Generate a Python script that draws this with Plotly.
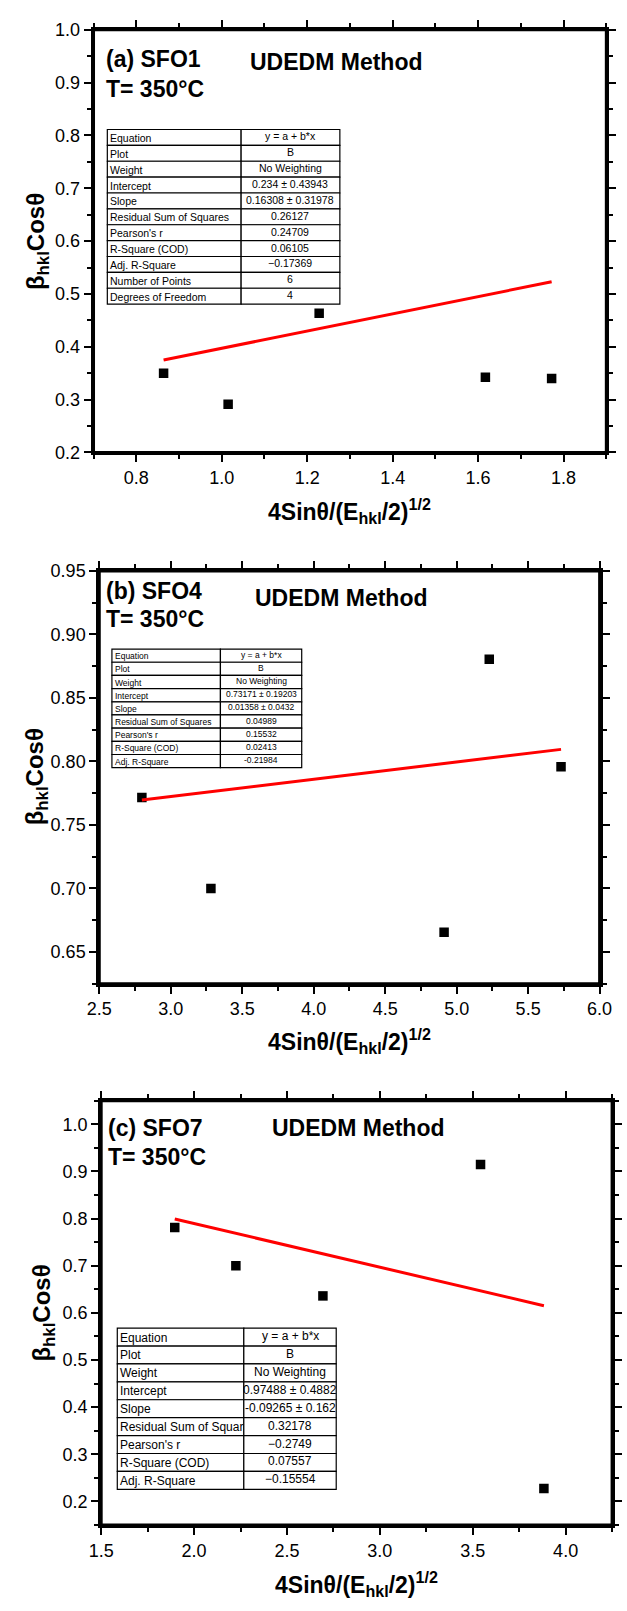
import plotly.graph_objects as go

# ---------------- data ----------------
sfo1_x = [0.864, 1.015, 1.228, 1.617, 1.772]
sfo1_y = [0.350, 0.291, 0.4635, 0.3425, 0.340]
sfo1_fit = (0.234, 0.16308)

sfo4_x = [2.798, 3.281, 4.912, 5.228, 5.730]
sfo4_y = [0.7716, 0.700, 0.6655, 0.8805, 0.7958]
sfo4_fit = (0.73171, 0.01358)

sfo7_x = [1.896, 2.225, 2.6935, 3.542, 3.883]
sfo7_y = [0.781, 0.700, 0.636, 0.915, 0.2274]
sfo7_fit = (0.97488, -0.09265)

panel_labels = ["(a) SFO1", "(b) SFO4", "(c) SFO7"]
temp_label = "T= 350°C"
method_label = "UDEDM Method"

tbl1_keys = ["Equation", "Plot", "Weight", "Intercept", "Slope", "Residual Sum of Squares",
             "Pearson's r", "R-Square (COD)", "Adj. R-Square", "Number of Points", "Degrees of Freedom"]
tbl1_vals = ["y = a + b*x", "B", "No Weighting", "0.234 ± 0.43943", "0.16308 ± 0.31978", "0.26127",
             "0.24709", "0.06105", "−0.17369", "6", "4"]
tbl2_keys = ["Equation", "Plot", "Weight", "Intercept", "Slope", "Residual Sum of Squares",
             "Pearson's r", "R-Square (COD)", "Adj. R-Square"]
tbl2_vals = ["y = a + b*x", "B", "No Weighting", "0.73171 ± 0.19203", "0.01358 ± 0.0432", "0.04989",
             "0.15532", "0.02413", "-0.21984"]
tbl3_keys = ["Equation", "Plot", "Weight", "Intercept", "Slope", "Residual Sum of Squar",
             "Pearson's r", "R-Square (COD)", "Adj. R-Square"]
tbl3_vals = ["y = a + b*x", "B", "No Weighting", "0.97488 ± 0.4882", "-0.09265 ± 0.162", "0.32178",
             "−0.2749", "0.07557", "−0.15554"]

x_title = "<b>4Sinθ/(E<sub>hkl</sub>/2)<sup>1/2</sup></b>"
y_title = "<b>β<sub>hkl</sub>Cosθ</b>"

# ---------------- layout helpers ----------------
W, H = 627, 1611
FONT = "Liberation Sans, Arial, sans-serif"


def px(x):
    return x / W


def py(y):
    return 1 - y / H


panels = [
    dict(rect=(84, 619, 20, 448), xr=[0.7, 1.9], yr=[0.2, 1.0], xdt=0.2, x0=0.8, xmin=0.1,
         ydt=0.1, y0=0.2, ymin=0.05, xfmt=".1f", yfmt=".1f",
         x=sfo1_x, y=sfo1_y, fit=sfo1_fit,
         tbl=(98.4, 238, 341, 121, 297.8, 10.5), keys=tbl1_keys, vals=tbl1_vals,
         lab=(95, 50), tlab=(95, 80), mlab=(245, 53), ytx=25, xty=507),
    dict(rect=(90, 612, 568, 986), xr=[2.5, 6.0], yr=[0.625, 0.95], xdt=0.5, x0=2.5, xmin=0.25,
         ydt=0.05, y0=0.65, ymin=0.025, xfmt=".1f", yfmt=".2f",
         x=sfo4_x, y=sfo4_y, fit=sfo4_fit,
         tbl=(103.2, 216.4, 301.2, 647.1, 767.2, 8.5), keys=tbl2_keys, vals=tbl2_vals,
         lab=(95, 588), tlab=(95, 617), mlab=(250, 595), ytx=24, xty=1044),
    dict(rect=(92, 625, 1104.5, 1534), xr=[1.5, 4.25], yr=[0.15, 1.05], xdt=0.5, x0=1.5, xmin=0.25,
         ydt=0.1, y0=0.2, ymin=0.05, xfmt=".1f", yfmt=".1f",
         x=sfo7_x, y=sfo7_y, fit=sfo7_fit,
         tbl=(108.8, 240.8, 337.2, 1334.7, 1497.9, 12), keys=tbl3_keys, vals=tbl3_vals,
         lab=(97, 1132), tlab=(97, 1161), mlab=(268, 1132), ytx=32, xty=1594),
]

fig = go.Figure()
layout = dict(width=W, height=H, margin=dict(l=0, r=0, t=0, b=0),
              paper_bgcolor="white", plot_bgcolor="white", showlegend=False,
              font=dict(family=FONT, color="black"))
annotations = []
shapes = []

for i, p in enumerate(panels, start=1):
    x0p, x1p, y0p, y1p = p["rect"]
    xd = [px(x0p), px(x1p)]
    yd = [py(y1p), py(y0p)]
    xs = "" if i == 1 else str(i)
    common = dict(showgrid=False, zeroline=False, showline=True, linecolor="black", linewidth=3,
                  tickcolor="black", tickwidth=2, ticklen=7, fixedrange=True, mirror="allticks")
    layout["xaxis" + xs] = dict(domain=xd, range=p["xr"], anchor="y" + xs, side="bottom",
                                ticks="outside", tickmode="linear", tick0=p["x0"], dtick=p["xdt"],
                                tickformat=p["xfmt"], tickfont=dict(size=18, family=FONT),
                                minor=dict(dtick=p["xmin"], tick0=p["x0"], ticks="outside",
                                           ticklen=4, tickwidth=2, tickcolor="black"),
                                **common)
    layout["yaxis" + xs] = dict(domain=yd, range=p["yr"], anchor="x" + xs, side="left",
                                ticks="outside", tickmode="linear", tick0=p["y0"], dtick=p["ydt"],
                                tickformat=p["yfmt"], tickfont=dict(size=18, family=FONT),
                                minor=dict(dtick=p["ymin"], tick0=p["y0"], ticks="outside",
                                           ticklen=4, tickwidth=2, tickcolor="black"),
                                **common)

    # frame of the plot box (top / right border)
    shapes.append(dict(type="rect", xref="x%s domain" % xs, yref="y%s domain" % xs,
                       x0=0, x1=1, y0=0, y1=1, line=dict(color="black", width=3),
                       fillcolor="rgba(0,0,0,0)", layer="above"))

    # data markers
    fig.add_trace(go.Scatter(x=p["x"], y=p["y"], mode="markers", xaxis="x" + xs, yaxis="y" + xs,
                             marker=dict(symbol="square", size=9.5, color="black"), hoverinfo="skip"))
    # linear fit line
    a, b = p["fit"]
    lx = [min(p["x"]), max(p["x"])]
    ly = [a + b * v for v in lx]
    fig.add_trace(go.Scatter(x=lx, y=ly, mode="lines", xaxis="x" + xs, yaxis="y" + xs,
                             line=dict(color="#ff0000", width=3), hoverinfo="skip"))

    # panel texts
    for (tx, ty), txt in [(p["lab"], panel_labels[i - 1]), (p["tlab"], temp_label), (p["mlab"], method_label)]:
        annotations.append(dict(x=px(tx), y=py(ty), xref="paper", yref="paper", xanchor="left",
                                yanchor="middle", showarrow=False, text="<b>%s</b>" % txt,
                                font=dict(size=23, family=FONT, color="black")))
    # axis titles
    annotations.append(dict(x=px((x0p + x1p) / 2), y=py(p["xty"]), xref="paper", yref="paper",
                            xanchor="center", yanchor="middle", showarrow=False, text=x_title,
                            font=dict(size=23, family=FONT, color="black")))
    annotations.append(dict(x=px(p["ytx"]), y=py((y0p + y1p) / 2), xref="paper", yref="paper",
                            xanchor="center", yanchor="middle", showarrow=False, text=y_title,
                            textangle=-90, font=dict(size=24, family=FONT, color="black")))

    # fit-result table
    tl, ts, tr, tt, tb, fs = p["tbl"]
    n = len(p["keys"])
    rh = (tb - tt) / n
    for r in range(n):
        ry0 = tt + r * rh
        ry1 = ry0 + rh
        for (cx0, cx1) in [(tl, ts), (ts, tr)]:
            shapes.append(dict(type="rect", xref="paper", yref="paper",
                               x0=px(cx0), x1=px(cx1), y0=py(ry1), y1=py(ry0),
                               line=dict(color="black", width=1.2), fillcolor="white", layer="above"))
        annotations.append(dict(x=px(tl + 1), y=py(ry0 + rh / 2 + 0.5), xref="paper", yref="paper",
                                xanchor="left", yanchor="middle", showarrow=False,
                                text=p["keys"][r], font=dict(size=fs, family=FONT, color="black")))
        annotations.append(dict(x=px((ts + tr) / 2), y=py(ry0 + rh / 2 - 1), xref="paper", yref="paper",
                                xanchor="center", yanchor="middle", showarrow=False,
                                text=p["vals"][r], font=dict(size=fs, family=FONT, color="black")))

layout["annotations"] = annotations
layout["shapes"] = shapes
fig.update_layout(**layout)
fig.write_html("out.html")
